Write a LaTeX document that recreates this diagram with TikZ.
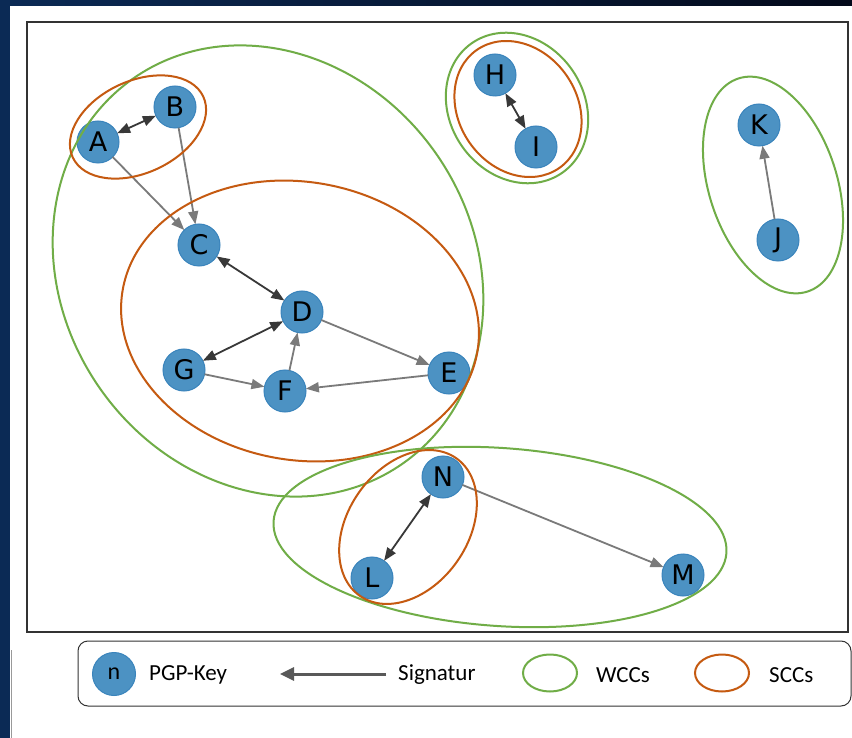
\documentclass[tikz,border=0pt]{standalone}
\usepackage{fontspec}
\setmainfont{Carlito}
\newfontfamily\dejavu{DejaVu Sans}
\usetikzlibrary{arrows.meta,shapes.geometric}
\definecolor{nodeblue}{HTML}{4C92C3}
\definecolor{nodeedge}{HTML}{3A84BC}
\definecolor{wcc}{HTML}{70AD47}
\definecolor{scc}{HTML}{C55A11}
\definecolor{navy}{HTML}{0B2A55}
\definecolor{navydark}{HTML}{03091A}
\tikzset{
  pgpkey/.style={circle, minimum size=42pt, inner sep=0pt, outer sep=0pt, fill=nodeblue, draw=nodeedge, line width=1pt, text=black, font=\dejavu\fontsize{27}{27}\selectfont},
  sig/.style={draw=black!52, line width=1.8pt, -{Triangle[length=13pt,width=10pt]}},
  bisig/.style={draw=black!78, line width=1.8pt, {Triangle[length=13pt,width=10pt]}-{Triangle[length=13pt,width=10pt]}},
  wccline/.style={draw=wcc, line width=2pt},
  sccline/.style={draw=scc, line width=2pt},
  legtext/.style={anchor=west, font=\fontsize{23}{23}\selectfont, inner sep=0pt}
}
\begin{document}
\begin{tikzpicture}[x=1pt,y=1pt]
\useasboundingbox (0,0) rectangle (852,-738);
\fill[white] (0,0) rectangle (852,-738);
\shade[left color=navy, right color=navydark] (0,0) rectangle (852,-6);
\fill[navy] (0,0) rectangle (10,-738);
\draw[black!40, line width=1pt] (11,-650) -- (11,-738);
% frame
\draw[line width=1.6pt, black!80] (27,-22) rectangle (848,-632);
% nodes
\node[pgpkey] (A) at (98,-142) {A};
\node[pgpkey] (B) at (175,-107) {B};
\node[pgpkey] (C) at (199,-245) {C};
\node[pgpkey] (D) at (302,-312) {D};
\node[pgpkey] (E) at (449,-373) {E};
\node[pgpkey] (F) at (285,-391) {F};
\node[pgpkey] (G) at (184,-370) {G};
\node[pgpkey] (H) at (495,-75) {H};
\node[pgpkey] (I) at (536,-147) {I};
\node[pgpkey] (J) at (778,-240) {J};
\node[pgpkey] (K) at (759,-125) {K};
\node[pgpkey] (L) at (372,-578) {L};
\node[pgpkey] (M) at (683,-575) {M};
\node[pgpkey] (N) at (443,-477) {N};
% edges
\draw[bisig] (A) -- (B);
\draw[sig] (A) -- (C);
\draw[sig] (B) -- (C);
\draw[bisig] (C) -- (D);
\draw[sig] (D) -- (E);
\draw[sig] (E) -- (F);
\draw[sig] (F) -- (D);
\draw[sig] (G) -- (F);
\draw[bisig] (G) -- (D);
\draw[bisig] (H) -- (I);
\draw[sig] (J) -- (K);
\draw[bisig] (N) -- (L);
\draw[sig] (N) -- (M);
% components
\draw[wccline, rotate around={-55:(268,-271)}] (268,-271) ellipse [x radius=235pt, y radius=205pt];
\draw[sccline, rotate around={-10:(300,-321)}] (300,-321) ellipse [x radius=180pt, y radius=139pt];
\draw[sccline, rotate around={25:(138,-127)}] (138,-127) ellipse [x radius=72pt, y radius=46pt];
\draw[wccline, rotate around={-55:(517,-108)}] (517,-108) ellipse [x radius=79pt, y radius=67pt];
\draw[sccline, rotate around={-55:(518,-109)}] (518,-109) ellipse [x radius=72pt, y radius=59pt];
\draw[wccline, rotate around={-72:(773,-185)}] (773,-185) ellipse [x radius=112pt, y radius=64pt];
\draw[wccline, rotate around={-4:(500,-537)}] (500,-537) ellipse [x radius=227pt, y radius=89pt];
\draw[sccline, rotate around={55:(408,-527)}] (408,-527) ellipse [x radius=84pt, y radius=60pt];
% legend
\draw[line width=1pt, black!80, rounded corners=10pt] (78,-641) rectangle (851,-706);
\node[pgpkey, minimum size=43pt, font=\fontsize{24}{24}\selectfont] (legn) at (114,-674) {n};
\node[legtext] (legkey) at (149,-675) {PGP-Key};
\coordinate (arrS) at (386,-674);
\coordinate (arrE) at (280,-674);
\draw[draw=black!65, line width=3pt, -{Triangle[length=14pt,width=13pt]}] (arrS) -- (arrE);
\node[legtext] (legsig) at (398,-675) {Signatur};
\node[ellipse, wccline, minimum width=54pt, minimum height=37pt, inner sep=0pt] (legw) at (550,-673) {};
\node[legtext] (legwcc) at (596,-675) {WCCs};
\node[ellipse, sccline, minimum width=54pt, minimum height=37pt, inner sep=0pt] (legs) at (722,-673) {};
\node[legtext] (legscc) at (769,-675) {SCCs};
\end{tikzpicture}
\end{document}
